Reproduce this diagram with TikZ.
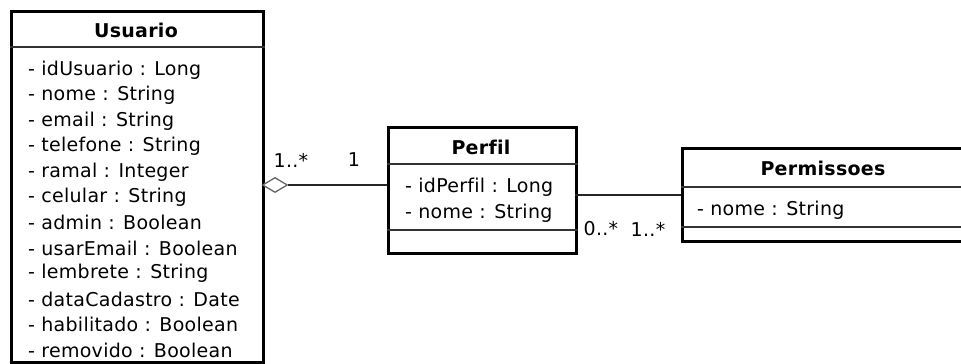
\documentclass[tikz,border=0pt]{standalone}
\usepackage{fontspec}
\setmainfont[LetterSpace=1.5, Ligatures={NoCommon}]{DejaVu Sans}
\usetikzlibrary{shapes.geometric}
\begin{document}
\begin{tikzpicture}[x=1pt,y=-1pt,
  classbox/.style={draw=black, line width=2.6pt, fill=white, inner sep=0pt, anchor=north west},
  sep/.style={draw=black!80, line width=1.4pt},
  attr/.style={anchor=west, inner sep=0pt, font=\fontsize{19}{21}\selectfont},
  title/.style={anchor=center, inner sep=0pt, font=\fontsize{19}{21}\selectfont\bfseries},
  mult/.style={anchor=center, inner sep=0pt, font=\fontsize{19}{21}\selectfont},
  assoc/.style={draw=black!85, line width=1.3pt},
  aggr/.style={draw=black!60, fill=white, line width=1.3pt, shape=diamond, minimum width=25pt, minimum height=15pt, inner sep=0pt, aspect=1.7}
]
\useasboundingbox (0,0) rectangle (961,364);
\clip (0,0) rectangle (961,364);
\fill[white] (0,0) rectangle (961,364);

% Usuario
\node[classbox, minimum width=252pt, minimum height=351pt] (usuario) at (10,10) {};
\coordinate (u1) at (10,47);
\draw[sep] (u1) -- (u1 -| usuario.east);
\node[title] (usuarioT) at (136,30) {Usuario};
\foreach \t [count=\i from 0] in {idUsuario : Long, nome : String, email : String, telefone : String, ramal : Integer, celular : String, admin : Boolean, usarEmail : Boolean, lembrete : String, dataCadastro : Date, habilitado : Boolean, removido : Boolean}
  \node[attr] (ua\i) at (28,{70+25.45*\i}) {- \t};

% Perfil
\node[classbox, minimum width=188pt, minimum height=126pt] (perfil) at (387,126) {};
\coordinate (p1) at (387,164);
\coordinate (p2) at (387,230);
\draw[sep] (p1) -- (p1 -| perfil.east);
\draw[sep] (p2) -- (p2 -| perfil.east);
\node[title] (perfilT) at (481,147) {Perfil};
\node[attr] (pa0) at (405,187) {- idPerfil : Long};
\node[attr] (pa1) at (405,213) {- nome : String};

% Permissoes
\node[classbox, minimum width=284pt, minimum height=93pt] (perm) at (681,147) {};
\coordinate (q1) at (681,187);
\coordinate (q2) at (681,227);
\draw[sep] (q1) -- (q1 -| perm.east);
\draw[sep] (q2) -- (q2 -| perm.east);
\node[title] (permT) at (823,168) {Permissoes};
\node[attr] (qa0) at (697,210) {- nome : String};

% Aggregation Usuario - Perfil
\node[aggr] (dia) at (275,185) {};
\draw[assoc] (dia.east) -- (dia.east -| perfil.west);
\node[mult] (m1) at (291,160) {1..*};
\node[mult] (m2) at (354,160) {1};

% Association Perfil - Permissoes
\coordinate (a1) at (575,195);
\draw[assoc] (a1) -- (a1 -| perm.west);
\node[mult] (m3) at (601,229) {0..*};
\node[mult] (m4) at (648,229) {1..*};
\end{tikzpicture}
\end{document}
